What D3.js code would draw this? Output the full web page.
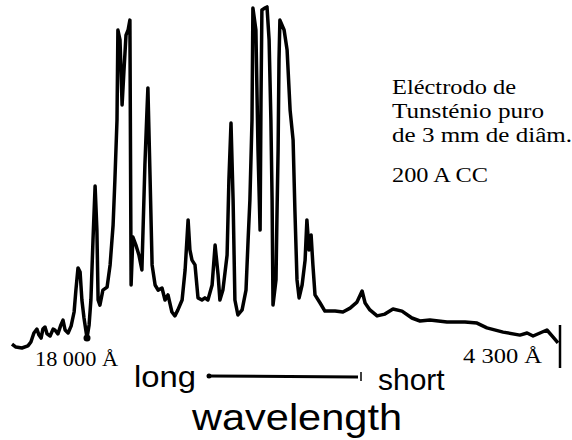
<!DOCTYPE html>
<html>
<head>
<meta charset="utf-8">
<script src="https://cdn.jsdelivr.net/npm/d3@7"></script>
<style>
  html, body { margin: 0; padding: 0; background: #fff; }
  svg { display: block; }
</style>
</head>
<body>
<svg width="572" height="440"></svg>
<script>
// position along the recording (chart mm, left = long wavelength)
var scanPos = [0, 1.3, 3.3, 5.3, 6.3, 7.3, 8.3, 9, 9.7, 10.3, 11, 11.7, 12.7, 13.7, 14.3, 15.3, 16.3, 17, 17.7, 18.7,
  19.7, 20.7, 21.3, 22, 22.7, 23.3, 24, 24.7, 25, 25.7, 26.3, 27, 27.7, 28.3, 28.7, 29.3, 30.3, 31.7, 32.7, 33.7,
  34.3, 35, 35.3, 36, 36.7, 37.3, 38, 38.7, 39.3, 39.7, 40.3, 41.3, 42.3, 43.3, 44.3, 45, 45.3, 46, 46.7, 47.7,
  48.7, 50, 51, 52, 53.3, 54.3, 55.3, 56.7, 57.7, 58.7, 59.3, 60, 61, 62, 63.3, 64.3, 65.3, 66.7, 67.7, 68.7,
  69.3, 70.3, 71.7, 72.3, 73, 73.7, 74.3, 75.3, 76.7, 78, 78.7, 79.3, 80, 80.3, 81.3, 82, 82.7, 83, 83.3, 84.3,
  85, 85.7, 86.3, 86.7, 87, 88, 88.3, 88.7, 89, 89.3, 90.7, 91.7, 92.7, 93.7, 94.3, 95, 95.7, 96.7, 97.7, 98.3,
  99, 99.7, 100.3, 101, 102.7, 104.3, 107.7, 110.3, 112.7, 115, 116.7, 117.7, 119.3, 121.7, 124.3, 127, 130, 133.3, 136, 139.3,
  145, 151, 155, 158.3, 163.7, 169.3, 171.7, 173.7, 176, 178.3, 180.3, 182];

// recorder deflection (chart mm)
var intensity = [15.3, 14.3, 14, 14.7, 16, 19, 20.3, 18.3, 17.3, 20.3, 21, 18.7, 18, 20.3, 20, 18.7, 21.7, 23.3, 20, 19,
  21.3, 26, 33.3, 40.7, 39.3, 30, 24, 19.3, 17.3, 21.7, 30, 50, 68, 53.3, 30, 28.3, 33.3, 34.3, 41.7, 55,
  70, 90, 120, 116.7, 95, 106, 118.3, 120, 123.3, 35, 51, 48.3, 45, 40, 75, 93.3, 100.7, 71.7, 41.7, 35,
  33.3, 34, 30, 31.7, 26, 24.7, 26.7, 30, 40, 56.7, 46.7, 43.3, 41.7, 30.7, 30, 30.7, 30, 35, 48.3, 38.3,
  30, 33.3, 45, 70, 89, 63.3, 30, 25, 26.7, 33.3, 50, 63.3, 90, 127.3, 120, 80, 53.3, 96.7, 126.7, 127.3,
  127.7, 116.7, 90, 63.3, 28.3, 36.7, 56.7, 80, 110, 123.3, 120, 113.3, 93.3, 83.3, 60, 36.7, 30.7, 35, 43.3, 56.7,
  46.7, 51.7, 41.7, 31.7, 29, 26.3, 26.3, 26, 27.3, 29.3, 33, 29, 26.7, 24.7, 25.3, 27, 26.3, 24, 23, 23.3,
  22.7, 22.7, 22.3, 20.7, 19.3, 18.3, 19, 18, 19, 20, 17.7, 15.7];

var markerPos = 25;            // 18 000 Å reference mark
var endLabels = ['18 000 Å', '4 300 Å'];
var noteLines = ['Eléctrodo de', 'Tunsténio puro', 'de 3 mm de diâm.'];
var currentNote = '200 A CC';

var svg = d3.select('svg');

var x = d3.scaleLinear()
  .domain([0, 182])
  .range([12, 558]);

var y = d3.scaleLinear()
  .domain([0, 130])
  .range([390, 0]);

var points = scanPos.map(function(d, i) {
  return { pos: d, val: intensity[i] };
});

var line = d3.line()
  .x(function(d) { return x(d.pos); })
  .y(function(d) { return y(d.val); });

svg.append('path')
  .datum(points)
  .attr('d', line)
  .attr('fill', 'none')
  .attr('stroke', '#000')
  .attr('stroke-width', 3.5)
  .attr('stroke-linejoin', 'round');

// reference dot at 18 000 Å
var mk = points.find(function(d) { return d.pos === markerPos; });
svg.append('circle')
  .attr('cx', x(mk.pos))
  .attr('cy', y(mk.val))
  .attr('r', 3.5)
  .attr('fill', '#000');

// end tick at short wavelength side
svg.append('line')
  .attr('x1', x(182) + 2).attr('x2', x(182) + 2)
  .attr('y1', 325).attr('y2', 368)
  .attr('stroke', '#000').attr('stroke-width', 2.5);

// end labels
svg.append('text')
  .attr('x', 35).attr('y', 366)
  .attr('font-family', 'Liberation Serif')
  .attr('font-size', 20)
  .attr('textLength', 83).attr('lengthAdjust', 'spacingAndGlyphs')
  .text(endLabels[0]);

svg.append('text')
  .attr('x', 463).attr('y', 363)
  .attr('font-family', 'Liberation Serif')
  .attr('font-size', 20)
  .attr('textLength', 79).attr('lengthAdjust', 'spacingAndGlyphs')
  .text(endLabels[1]);

// note block
var noteW = [124, 152, 180];
svg.selectAll('text.note')
  .data(noteLines)
  .enter().append('text')
  .attr('class', 'note')
  .attr('x', 392)
  .attr('y', function(d, i) { return 94 + i * 24; })
  .attr('font-family', 'Liberation Serif')
  .attr('font-size', 20)
  .attr('textLength', function(d, i) { return noteW[i]; })
  .attr('lengthAdjust', 'spacingAndGlyphs')
  .text(function(d) { return d; });

svg.append('text')
  .attr('x', 392).attr('y', 182)
  .attr('font-family', 'Liberation Serif')
  .attr('font-size', 20)
  .attr('textLength', 96).attr('lengthAdjust', 'spacingAndGlyphs')
  .text(currentNote);

// wavelength direction arrow
svg.append('line')
  .attr('x1', 208).attr('x2', 358)
  .attr('y1', 376).attr('y2', 377)
  .attr('stroke', '#000').attr('stroke-width', 3);
svg.append('circle')
  .attr('cx', 209).attr('cy', 376).attr('r', 2.5).attr('fill', '#000');
svg.append('line')
  .attr('x1', 361).attr('x2', 361)
  .attr('y1', 372).attr('y2', 381)
  .attr('stroke', '#000').attr('stroke-width', 1.5);

svg.append('text')
  .attr('x', 134).attr('y', 387)
  .attr('font-family', 'Liberation Sans')
  .attr('font-size', 30)
  .attr('textLength', 62).attr('lengthAdjust', 'spacingAndGlyphs')
  .text('long');

svg.append('text')
  .attr('x', 378).attr('y', 390)
  .attr('font-family', 'Liberation Sans')
  .attr('font-size', 30)
  .text('short');

svg.append('text')
  .attr('x', 192).attr('y', 430)
  .attr('font-family', 'Liberation Sans')
  .attr('font-size', 37)
  .attr('textLength', 210).attr('lengthAdjust', 'spacingAndGlyphs')
  .text('wavelength');
</script>
</body>
</html>
